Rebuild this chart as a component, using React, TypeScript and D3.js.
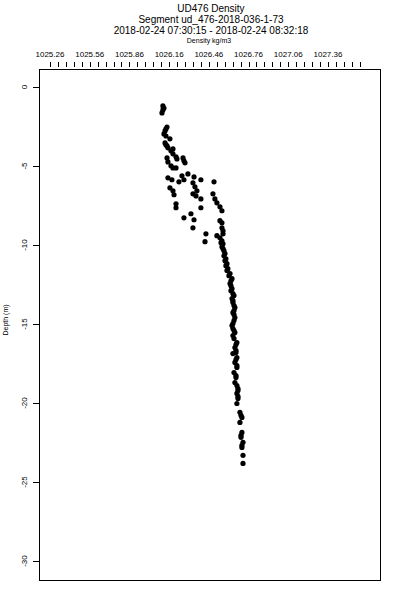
import React from "react";
import * as d3 from "d3";

// chart texts
const titleLines = [
  "UD476 Density",
  "Segment ud_476-2018-036-1-73",
  "2018-02-24 07:30:15 - 2018-02-24 08:32:18",
];
const xLabel = "Density kg/m3";
const yLabel = "Depth (m)";

// axis ticks
const densityTicks = [1025.26, 1025.56, 1025.86, 1026.16, 1026.46, 1026.76, 1027.06, 1027.36];
const depthTicks = [0, -5, -10, -15, -20, -25, -30];

// samples (kg/m3, m)
const density = [
  1026.113, 1026.121, 1026.113, 1026.106, 1026.144, 1026.136, 1026.129, 1026.121, 1026.136, 1026.166,
  1026.129, 1026.136, 1026.144, 1026.151, 1026.174, 1026.189, 1026.189, 1026.212, 1026.219, 1026.144,
  1026.151, 1026.174, 1026.189, 1026.212, 1026.265, 1026.272, 1026.28, 1026.257, 1026.302, 1026.348,
  1026.151, 1026.181, 1026.234, 1026.272, 1026.34, 1026.4, 1026.499, 1026.166, 1026.189, 1026.197,
  1026.355, 1026.37, 1026.34, 1026.363, 1026.4, 1026.491, 1026.506, 1026.521, 1026.544, 1026.559,
  1026.212, 1026.212, 1026.4, 1026.325, 1026.272, 1026.348, 1026.544, 1026.559, 1026.34, 1026.559,
  1026.567, 1026.567, 1026.521, 1026.544, 1026.438, 1026.431,
  1026.559, 1026.552, 1026.567, 1026.559, 1026.567, 1026.574, 1026.582, 1026.574, 1026.589, 1026.582,
  1026.597, 1026.589, 1026.604, 1026.597, 1026.62, 1026.612, 1026.635, 1026.627, 1026.62, 1026.627,
  1026.635, 1026.627, 1026.642, 1026.65, 1026.635, 1026.642, 1026.642, 1026.65, 1026.657, 1026.65,
  1026.642, 1026.65, 1026.657, 1026.65, 1026.642, 1026.635, 1026.642, 1026.65, 1026.657, 1026.642,
  1026.65, 1026.672, 1026.665, 1026.657, 1026.665, 1026.665, 1026.642, 1026.672, 1026.665, 1026.657,
  1026.672, 1026.672, 1026.65, 1026.665, 1026.665, 1026.657, 1026.672, 1026.68, 1026.68, 1026.672,
  1026.68, 1026.68, 1026.672, 1026.695, 1026.703, 1026.71, 1026.695, 1026.71, 1026.703, 1026.703,
  1026.718, 1026.71, 1026.71, 1026.718, 1026.718,
];
const depth = [
  -1.2, -1.33, -1.45, -1.64, -2.53, -2.65, -2.78, -2.97, -3.1, -3.28,
  -3.54, -3.66, -3.73, -3.85, -4.04, -3.92, -4.23, -4.42, -4.55, -4.49,
  -4.74, -4.99, -5.12, -5.12, -4.49, -4.67, -4.8, -5.62, -5.5, -5.69,
  -5.75, -5.87, -6.0, -5.87, -6.06, -5.87, -6.0, -6.38, -6.57, -6.82,
  -6.32, -6.57, -6.76, -6.89, -7.08, -6.76, -7.08, -7.33, -7.58, -7.83,
  -7.39, -7.64, -7.64, -8.02, -8.28, -8.4, -8.46, -8.59, -8.91, -8.91,
  -9.1, -9.29, -9.41, -9.54, -9.29, -9.79,
  -9.73, -9.85, -9.92, -10.11, -10.23, -10.36, -10.55, -10.68, -10.87, -10.99,
  -11.18, -11.31, -11.5, -11.62, -11.81, -11.94, -12.13, -12.26, -12.44, -12.57,
  -12.76, -12.89, -13.08, -13.2, -13.39, -13.52, -13.64, -13.83, -13.96, -14.15,
  -14.28, -14.4, -14.59, -14.78, -14.97, -15.1, -15.29, -15.41, -15.54, -15.73,
  -15.92, -16.17, -16.3, -16.49, -16.68, -16.8, -16.87, -17.12, -17.25, -17.43,
  -17.63, -17.75, -18.07, -18.26, -18.38, -18.7, -18.89, -19.08, -19.2, -19.39,
  -19.58, -19.71, -20.03, -20.59, -20.78, -20.91, -21.23, -21.86, -22.05, -22.17,
  -22.49, -22.68, -22.81, -23.31, -23.82,
];

const W = 400;
const H = 600;
const left = 39, right = 380, top = 69, bottom = 580;
const font = "'Liberation Sans', Arial, sans-serif";

export default function App() {
  const x = d3.scaleLinear().domain([1025.177, 1027.753]).range([left, right]);
  const y = d3.scaleLinear().domain([1.14, -31.2]).range([top, bottom]);
  const minor = d3.range(1025.26, 1027.65, 0.06);
  const pts = d3.zip(density, depth);

  return (
    <svg width={W} height={H} style={{ position: "absolute", left: 0, top: 0, background: "#fff" }}
      fontFamily={font}>
      {titleLines.map((t, i) => (
        <text key={t} x={211} y={12 + i * 11} fontSize={10} textAnchor="middle">{t}</text>
      ))}
      <text x={209} y={42.5} fontSize={7} textAnchor="middle">{xLabel}</text>

      {/* top axis */}
      {densityTicks.map((v) => (
        <text key={v} x={x(v)} y={57} fontSize={8} textAnchor="middle">{v.toFixed(2)}</text>
      ))}
      {minor.map((v, i) => (
        <line key={i} x1={Math.round(x(v)) + 0.5} x2={Math.round(x(v)) + 0.5} y1={62} y2={67}
          stroke="#000" strokeWidth={1} />
      ))}

      {/* left axis */}
      {depthTicks.map((v) => (
        <g key={v}>
          <line x1={33} x2={left} y1={Math.round(y(v)) + 0.5} y2={Math.round(y(v)) + 0.5} stroke="#000" />
          <text transform={`translate(27,${y(v)}) rotate(-90)`} fontSize={8} textAnchor="middle">{v}</text>
        </g>
      ))}
      <text transform={`translate(8,320) rotate(-90)`} fontSize={7} textAnchor="middle">{yLabel}</text>

      <rect x={left + 0.5} y={top + 0.5} width={right - left} height={bottom - top}
        fill="none" stroke="#000" strokeWidth={1} />

      {pts.map(([d, z], i) => (
        <circle key={i} cx={x(d)} cy={y(z)} r={2.6} fill="#000" />
      ))}
    </svg>
  );
}
